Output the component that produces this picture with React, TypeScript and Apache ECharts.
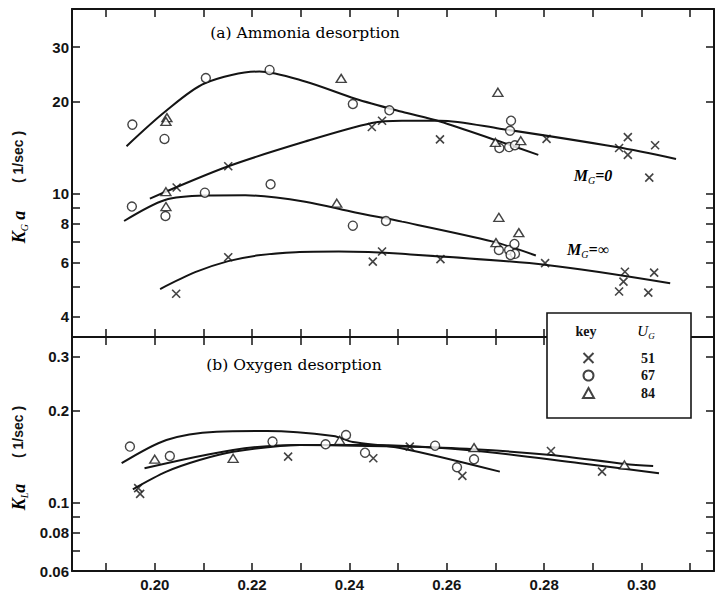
import React, { useEffect, useRef } from "react";
import * as echarts from "echarts";

// ---- axis ticks / labels ----
const xTicks = [0.19, 0.2, 0.21, 0.22, 0.23, 0.24, 0.25, 0.26, 0.27, 0.28, 0.29, 0.3, 0.31];
const xLabels = [0.2, 0.22, 0.24, 0.26, 0.28, 0.3];
const yTicksA = [4, 5, 6, 7, 8, 9, 10, 20, 30];
const yLabelsA = [4, 6, 8, 10, 20, 30];
const yTicksB = [0.06, 0.07, 0.08, 0.09, 0.1, 0.2, 0.3];
const yLabelsB = [0.06, 0.08, 0.1, 0.2, 0.3];

// ---- (a) Ammonia desorption: measured points ----
const nh3U51 = [
  [0.2045, 10.5], [0.2151, 12.3], [0.2446, 16.5], [0.2467, 17.3], [0.2586, 15.05], [0.2805, 15.1],
  [0.2972, 15.3], [0.2954, 14.1], [0.2972, 13.4], [0.3028, 14.4], [0.3016, 11.3],
  [0.2044, 4.74], [0.2151, 6.23], [0.2448, 6.03], [0.2467, 6.5], [0.2587, 6.14], [0.2802, 5.96],
  [0.2966, 5.59], [0.2963, 5.19], [0.2954, 4.82], [0.3026, 5.55], [0.3014, 4.78],
];
const nh3U67 = [
  [0.1954, 16.8], [0.202, 15.1], [0.2105, 23.8], [0.2236, 25.3], [0.2407, 19.6], [0.2482, 18.7],
  [0.2732, 17.3], [0.273, 16.05], [0.2708, 14.1], [0.2728, 14.2], [0.274, 14.4],
  [0.1953, 9.1], [0.2022, 8.48], [0.2103, 10.1], [0.2238, 10.75], [0.2407, 7.89], [0.2475, 8.17],
  [0.2707, 6.58], [0.2728, 6.58], [0.2739, 6.88], [0.274, 6.39], [0.2731, 6.34],
];
const nh3U84 = [
  [0.2025, 17.7], [0.2023, 17.2], [0.2383, 23.75], [0.2705, 21.4], [0.27, 14.7], [0.2752, 14.9],
  [0.2023, 10.17], [0.2023, 9.1], [0.2374, 9.33], [0.2707, 8.4], [0.2748, 7.49], [0.2701, 6.95],
];

// ---- (a) fitted curves ----
const nh3CurveTop = [
  [0.1942, 14.3], [0.2021, 18.5], [0.2103, 22.9], [0.2215, 25.0], [0.2309, 23.2],
  [0.2412, 20.4], [0.2508, 18.5], [0.2586, 17.2], [0.2709, 14.8], [0.2788, 13.4],
];
const nh3CurveM0 = [
  [0.199, 9.66], [0.2151, 12.3], [0.2309, 14.8], [0.2446, 17.0], [0.2508, 17.3], [0.2586, 17.3],
  [0.2709, 16.3], [0.2949, 14.2], [0.3071, 13.0],
];
const nh3CurveMinf = [
  [0.1937, 8.17], [0.2021, 9.56], [0.2103, 9.88], [0.2186, 9.9], [0.2309, 9.44], [0.2412, 8.7],
  [0.2508, 8.13], [0.2695, 7.0], [0.2783, 6.31],
];
const nh3CurveLow = [
  [0.2011, 4.91], [0.2083, 5.57], [0.2151, 6.05], [0.2213, 6.32], [0.2290, 6.47], [0.2378, 6.5],
  [0.2508, 6.39], [0.2805, 5.88], [0.3059, 5.13],
];

// ---- (b) Oxygen desorption: measured points ----
const o2U51 = [
  [0.1966, 0.1117], [0.197, 0.107], [0.2274, 0.1415], [0.2449, 0.1398], [0.2524, 0.1526],
  [0.2632, 0.1225], [0.2814, 0.1477], [0.2919, 0.1265],
];
const o2U67 = [
  [0.1949, 0.1526], [0.2031, 0.1422], [0.2242, 0.1584], [0.2351, 0.1553], [0.2393, 0.1665],
  [0.2432, 0.1458], [0.2576, 0.1537], [0.2656, 0.1388], [0.2621, 0.1307],
];
const o2U84 = [
  [0.2, 0.1388], [0.2161, 0.1398], [0.238, 0.16], [0.2656, 0.1514], [0.2965, 0.133],
];

// ---- (b) fitted curves ----
const o2Curve1 = [
  [0.1932, 0.1347], [0.2024, 0.1604], [0.2127, 0.1707], [0.223, 0.1716], [0.2367, 0.1653],
  [0.2407, 0.158], [0.2504, 0.1511], [0.2709, 0.1265],
];
const o2Curve2 = [
  [0.1979, 0.1297], [0.2161, 0.1488], [0.2298, 0.1545], [0.2504, 0.1526], [0.2656, 0.1496],
  [0.2814, 0.1433], [0.2965, 0.134], [0.3024, 0.1319],
];
const o2Curve3 = [
  [0.1955, 0.1108], [0.2024, 0.1265], [0.2092, 0.138], [0.2161, 0.1469], [0.2298, 0.1545],
  [0.2435, 0.1545], [0.2641, 0.1488], [0.2874, 0.1347], [0.3036, 0.125],
];

const legendNames = ["51", "67", "84"];

const INK = "#141414";
const CROSS = "path://M0,0L10,10M0,10L10,0";

function scatter(name: string, data: number[][], idx: number, symbol: string, size: any) {
  const isCross = symbol === CROSS;
  return {
    type: "scatter",
    name,
    data,
    xAxisIndex: idx,
    yAxisIndex: idx,
    symbol,
    symbolSize: size,
    itemStyle: isCross
      ? { color: INK, borderColor: INK, borderWidth: 1.6 }
      : { color: "#fff", borderColor: INK, borderWidth: 1.4 },
    z: 3,
    silent: true,
  };
}

function curve(data: number[][], idx: number) {
  return {
    type: "line",
    data,
    xAxisIndex: idx,
    yAxisIndex: idx,
    smooth: 0.3,
    symbol: "none",
    showSymbol: false,
    lineStyle: { color: INK, width: 2 },
    z: 2,
    silent: true,
  };
}

const tickStyle = { show: true, inside: true, length: 8, lineStyle: { color: INK, width: 1.5 } };
const labelFont = { fontSize: 15, fontWeight: "bold", fontFamily: "Liberation Sans", color: INK };

function xAxis(gridIndex: number, position: string, showLabels: boolean) {
  return {
    type: "value",
    gridIndex,
    position,
    min: 0.183,
    max: 0.3149,
    axisLine: { show: true, onZero: false, lineStyle: { color: INK, width: 2 } },
    axisTick: { ...tickStyle, customValues: xTicks },
    axisLabel: showLabels
      ? { show: true, customValues: xLabels, formatter: (v: number) => v.toFixed(2), margin: 6, ...labelFont }
      : { show: false },
    splitLine: { show: false },
  };
}

function yAxis(gridIndex: number, position: string, min: number, max: number, ticks: number[], labels: number[] | null) {
  return {
    type: "log",
    logBase: 10,
    gridIndex,
    position,
    min,
    max,
    axisLine: { show: true, onZero: false, lineStyle: { color: INK, width: 2 } },
    axisTick: { ...tickStyle, customValues: ticks },
    axisLabel: labels
      ? {
          show: true,
          customValues: labels,
          formatter: (v: number) => String(Number(Number(v).toPrecision(2))),
          margin: 3,
          ...labelFont,
        }
      : { show: false },
    splitLine: { show: false },
    minorTick: { show: false },
  };
}

const subRich = (main: number) => ({
  k: { fontSize: main, fontStyle: "italic", fontWeight: "bold", fontFamily: "Liberation Serif", color: INK, lineHeight: 20, verticalAlign: "middle" },
  s: { fontSize: 10, fontStyle: "italic", fontFamily: "Liberation Serif", color: INK, lineHeight: 12, verticalAlign: "bottom" },
});

export default function App() {
  const ref = useRef<HTMLDivElement>(null);
  useEffect(() => {
    if (!ref.current) return;
    const chart = echarts.init(ref.current, null, { renderer: "svg" });
    const option: any = {
      animation: false,
      backgroundColor: "#fff",
      grid: [
        { left: 72, top: 9, width: 642, height: 328 },
        { left: 72, top: 337, width: 642, height: 234 },
      ],
      xAxis: [xAxis(0, "bottom", false), xAxis(0, "top", false), xAxis(1, "bottom", true), xAxis(1, "top", false)],
      yAxis: [
        yAxis(0, "left", 3.43, 39.9, yTicksA, yLabelsA),
        yAxis(0, "right", 3.43, 39.9, yTicksA, null),
        yAxis(1, "left", 0.06, 0.3473, yTicksB, yLabelsB),
        yAxis(1, "right", 0.06, 0.3473, yTicksB, null),
      ],
      legend: {
        data: legendNames,
        orient: "vertical",
        left: 582,
        top: 351,
        padding: 0,
        itemWidth: 11,
        itemHeight: 10,
        itemGap: 3.5,
        selectedMode: false,
        z: 6,
        textStyle: { fontSize: 14, lineHeight: 14, fontWeight: "bold", fontFamily: "Liberation Serif", color: INK, padding: [0, 0, 0, 42] },
      },
      series: [
        scatter("51", nh3U51, 0, CROSS, 8),
        scatter("67", nh3U67, 0, "circle", 9),
        scatter("84", nh3U84, 0, "triangle", [10, 8]),
        curve(nh3CurveTop, 0),
        curve(nh3CurveM0, 0),
        curve(nh3CurveMinf, 0),
        curve(nh3CurveLow, 0),
        scatter("51", o2U51, 2, CROSS, 8),
        scatter("67", o2U67, 2, "circle", 9),
        scatter("84", o2U84, 2, "triangle", [10, 8]),
        curve(o2Curve1, 2),
        curve(o2Curve2, 2),
        curve(o2Curve3, 2),
      ],
      graphic: [
        {
          type: "text", x: 305, y: 33, z: 5,
          style: { text: "(a) Ammonia desorption", font: '15.5px "DejaVu Serif"', fill: "#000", align: "center", verticalAlign: "middle" },
        },
        {
          type: "text", x: 294, y: 365, z: 5,
          style: { text: "(b) Oxygen desorption", font: '15.5px "DejaVu Serif"', fill: "#000", align: "center", verticalAlign: "middle" },
        },
        {
          type: "text", x: 19, y: 227, rotation: Math.PI / 2, z: 5,
          style: { text: "{k|K}{s|G}{k| a}", rich: subRich(18), align: "center", verticalAlign: "middle" },
        },
        {
          type: "text", x: 18, y: 157, rotation: Math.PI / 2, z: 5,
          style: { text: "( 1/sec )", font: 'bold 14px "Liberation Sans"', fill: INK, align: "center", verticalAlign: "middle" },
        },
        {
          type: "text", x: 19, y: 497, rotation: Math.PI / 2, z: 5,
          style: { text: "{k|K}{s|L}{k|a}", rich: subRich(18), align: "center", verticalAlign: "middle" },
        },
        {
          type: "text", x: 18, y: 432, rotation: Math.PI / 2, z: 5,
          style: { text: "( 1/sec )", font: 'bold 14px "Liberation Sans"', fill: INK, align: "center", verticalAlign: "middle" },
        },
        {
          type: "text", x: 593, y: 175, z: 5,
          style: { text: "{k|M}{s|G}{k|=0}", rich: subRich(16), align: "center", verticalAlign: "middle" },
        },
        {
          type: "text", x: 588, y: 249, z: 5,
          style: { text: "{k|M}{s|G}{k|=∞}", rich: subRich(16), align: "center", verticalAlign: "middle" },
        },
        {
          type: "rect", z: 4,
          shape: { x: 547, y: 313, width: 144, height: 105 },
          style: { fill: "#fff", stroke: INK, lineWidth: 1.6 },
        },
        {
          type: "text", x: 586, y: 331, z: 6,
          style: { text: "key", font: 'bold 14px "Liberation Serif"', fill: INK, align: "center", verticalAlign: "middle" },
        },
        {
          type: "text", x: 646, y: 331, z: 6,
          style: {
            text: "{k|U}{s|G}",
            rich: {
              k: { fontSize: 15, fontStyle: "italic", fontFamily: "Liberation Serif", color: INK, lineHeight: 18, verticalAlign: "middle" },
              s: { fontSize: 9, fontStyle: "italic", fontFamily: "Liberation Serif", color: INK, lineHeight: 10, verticalAlign: "bottom" },
            },
            align: "center",
            verticalAlign: "middle",
          },
        },
      ],
    };
    chart.setOption(option);
    return () => chart.dispose();
  }, []);
  return (
    <div
      ref={ref}
      style={{ position: "fixed", left: 0, top: 0, width: 717, height: 599, background: "#fff" }}
    />
  );
}
